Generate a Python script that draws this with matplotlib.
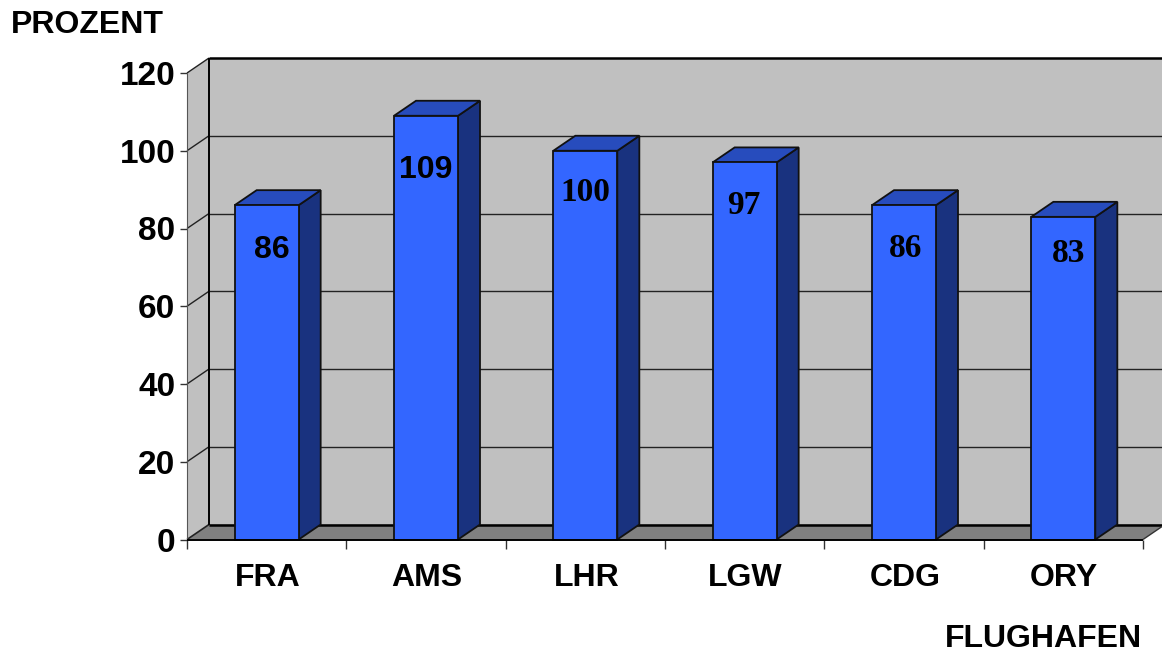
import matplotlib.pyplot as plt
from matplotlib.patches import Polygon

airports = ["FRA", "AMS", "LHR", "LGW", "CDG", "ORY"]
percent = [86, 109, 100, 97, 86, 83]
y_ticks = [0, 20, 40, 60, 80, 100, 120]

# label offset from the centre of the bar top, in pixels
label_dx = [5, 0, 0, -1, 2, 5]
label_dy = [-45, -54, -42, -43, -43, -37]
label_font = ["Liberation Sans", "Liberation Sans", "Liberation Serif",
              "Liberation Serif", "Liberation Serif", "Liberation Serif"]

W, H = 1162, 652
x0, x1, y0, y1 = 187, 1143, 539.5, 73

BLUE = "#3366ff"
TOP = "#274cbd"
SIDE = "#19327f"
WALL = "#c0c0c0"
FLOOR = "#808080"
EDGE = "#111111"

fig = plt.figure(figsize=(W / 100, H / 100), dpi=100)
ax = fig.add_axes([x0 / W, 1 - y0 / H, (x1 - x0) / W, (y0 - y1) / H])
ax.set_xlim(0, 6)
ax.set_ylim(0, 120)
ax.patch.set_visible(False)
for s in ax.spines.values():
    s.set_visible(False)

# depth of the fake 3d box, in data units
depth_x = 22 / ((x1 - x0) / 6)
depth_y = 15 / ((y0 - y1) / 120)
bar_w = 64 / ((x1 - x0) / 6)


def poly(pts, face, edge="none", lw=0.0, z=1):
    p = Polygon(pts, closed=True, facecolor=face, edgecolor=edge, linewidth=lw,
                zorder=z, clip_on=False, joinstyle="miter")
    ax.add_patch(p)


def line(xs, ys, color="#222222", lw=1.0, z=2):
    ax.plot(xs, ys, color=color, lw=lw, zorder=z, clip_on=False, solid_capstyle="butt")


# walls and floor
poly([(depth_x, depth_y), (6 + depth_x, depth_y), (6 + depth_x, 120 + depth_y), (depth_x, 120 + depth_y)], WALL)
poly([(0, 0), (depth_x, depth_y), (depth_x, 120 + depth_y), (0, 120)], WALL)
poly([(0, 0), (6, 0), (6 + depth_x, depth_y), (depth_x, depth_y)], FLOOR)

# gridlines run along the side wall and across the back
for v in y_ticks[1:-1]:
    line([0, depth_x], [v, v + depth_y], lw=1.0)
    line([depth_x, 6 + depth_x], [v + depth_y, v + depth_y], lw=1.0)
line([0, depth_x], [120, 120 + depth_y], lw=1.0)
line([0, depth_x], [0, depth_y], lw=1.2)
line([depth_x, 6 + depth_x], [120 + depth_y, 120 + depth_y], color="black", lw=1.8)
line([depth_x, depth_x], [depth_y, 120 + depth_y], color="black", lw=1.4)
line([depth_x, 6 + depth_x], [depth_y, depth_y], color="black", lw=1.8)
line([0, 0], [0, 120], color="#555555", lw=0.8)
line([6, 6 + depth_x], [0, depth_y], color="#333333", lw=1.0)

# bars
for i, v in enumerate(percent):
    left = i + 0.5 - bar_w / 2
    right = left + bar_w
    poly([(right, 0), (right + depth_x, depth_y), (right + depth_x, v + depth_y), (right, v)], SIDE, EDGE, 1.3, 3)
    poly([(left, v), (right, v), (right + depth_x, v + depth_y), (left + depth_x, v + depth_y)], TOP, EDGE, 1.3, 3)
    poly([(left, 0), (right, 0), (right, v), (left, v)], BLUE, EDGE, 1.3, 4)
    ax.annotate(str(v), xy=((left + right) / 2, v), xytext=(label_dx[i], label_dy[i]),
                textcoords="offset pixels", ha="center", va="center", zorder=5,
                fontsize=23 if i < 2 else 24, fontweight="bold", family=label_font[i], color="black")

line([0, 6], [0, 0], color="black", lw=1.4, z=6)

ax.set_yticks(y_ticks)
ax.set_xticks(range(7))
ax.set_xticklabels([])
ax.tick_params(axis="y", length=5, width=1.0, color="#333333", pad=3.5)
ax.tick_params(axis="x", length=6.5, width=1.0, color="#333333")
for t in ax.get_yticklabels():
    t.set_fontsize(24)
    t.set_fontweight("bold")
    t.set_family("Liberation Sans")

for i, name in enumerate(airports):
    ax.annotate(name, xy=(i + 0.5, 0), xytext=(1, -38), textcoords="offset pixels",
                ha="center", va="center", fontsize=23, fontweight="bold", family="Liberation Sans",
                annotation_clip=False)

fig.text(11 / W, 1 - 25 / H, "PROZENT", ha="left", va="center", fontsize=23,
         fontweight="bold", family="Liberation Sans")
fig.text(1142 / W, 1 - 639 / H, "FLUGHAFEN", ha="right", va="center", fontsize=23,
         fontweight="bold", family="Liberation Sans")

fig.savefig("out.png", dpi=100)
